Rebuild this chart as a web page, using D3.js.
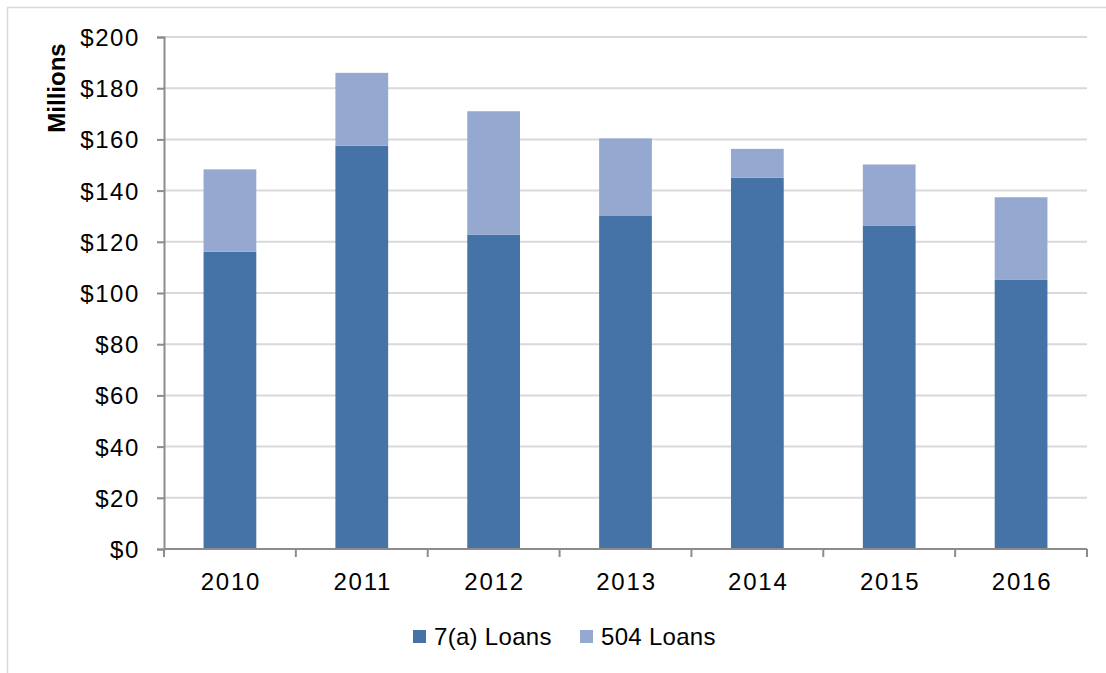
<!DOCTYPE html>
<html>
<head>
<meta charset="utf-8">
<script src="https://cdn.jsdelivr.net/npm/d3@7"></script>
<style>
  html, body { margin: 0; padding: 0; background: #fff; }
  svg { display: block; }
  text { font-family: "Liberation Sans", Arial, sans-serif; fill: #000; }
</style>
</head>
<body>
<svg id="chart" width="1106" height="673"></svg>
<script>
// SBA loan volume by fiscal year, in millions of dollars
const years = ["2010", "2011", "2012", "2013", "2014", "2015", "2016"];
const loans7a = [116.1, 157.5, 122.7, 130.3, 145.0, 126.2, 105.1];
const loans504 = [32.2, 28.5, 48.3, 30.1, 11.3, 24.0, 32.3];
const seriesNames = ["7(a) Loans", "504 Loans"];
const seriesColors = ["#4573a7", "#95a9d0"];
const yTicks = [0, 20, 40, 60, 80, 100, 120, 140, 160, 180, 200];

const svg = d3.select("#chart");
const W = 1106, H = 673;
const plot = { left: 164, right: 1087, top: 37, bottom: 549 };

// Outer frame
svg.append("rect")
  .attr("x", 7.5).attr("y", 7.5)
  .attr("width", W).attr("height", H)
  .attr("fill", "none").attr("stroke", "#d9d9d9").attr("stroke-width", 1.5);

const x = d3.scaleBand()
  .domain(years)
  .range([plot.left, plot.right])
  .paddingInner(0.6)
  .paddingOuter(0.3);

const y = d3.scaleLinear()
  .domain([0, 200])
  .range([plot.bottom, plot.top]);

// Horizontal gridlines
svg.append("g")
  .selectAll("line")
  .data(yTicks.filter(t => t > 0))
  .join("line")
  .attr("x1", plot.left).attr("x2", plot.right)
  .attr("y1", d => y(d)).attr("y2", d => y(d))
  .attr("stroke", "#d9d9d9").attr("stroke-width", 2);

// Stacked bars
const rows = years.map((yr, i) => ({ year: yr, a: loans7a[i], b: loans504[i] }));
const stack = d3.stack().keys(["a", "b"])(rows);

svg.append("g")
  .selectAll("g")
  .data(stack)
  .join("g")
  .attr("fill", (d, i) => seriesColors[i])
  .selectAll("rect")
  .data(d => d)
  .join("rect")
  .attr("x", d => x(d.data.year))
  .attr("width", x.bandwidth())
  .attr("y", d => y(d[1]))
  .attr("height", d => y(d[0]) - y(d[1]));

// Y axis
const yAxis = svg.append("g")
  .attr("transform", `translate(${plot.left},0)`)
  .call(d3.axisLeft(y).tickValues(yTicks).tickSize(7).tickPadding(17)
    .tickFormat(d => "$" + d));
yAxis.select(".domain").attr("stroke", "#8c8c8c").attr("stroke-width", 2);
yAxis.selectAll(".tick line").attr("stroke", "#8c8c8c").attr("stroke-width", 2);
yAxis.selectAll(".tick text")
  .attr("font-size", 24).attr("letter-spacing", "1.6px")
  .attr("font-family", "Liberation Sans, Arial, sans-serif")
  .attr("dy", "0.35em").attr("fill", "#000");

// X axis with ticks at category boundaries
const xg = svg.append("g").attr("transform", `translate(0,${plot.bottom})`);
xg.append("line")
  .attr("x1", plot.left).attr("x2", plot.right)
  .attr("stroke", "#8c8c8c").attr("stroke-width", 2);
const edges = d3.range(years.length + 1).map(i => plot.left + (plot.right - plot.left) * i / years.length);
xg.selectAll("line.edge")
  .data(edges)
  .join("line")
  .attr("class", "edge")
  .attr("x1", d => d).attr("x2", d => d)
  .attr("y1", 0).attr("y2", 8)
  .attr("stroke", "#8c8c8c").attr("stroke-width", 2);
xg.selectAll("text")
  .data(years)
  .join("text")
  .attr("x", d => x(d) + x.bandwidth() / 2 + 1)
  .attr("y", 41)
  .attr("text-anchor", "middle")
  .attr("font-size", 24).attr("letter-spacing", "1.8px")
  .text(d => d);

// Y axis title
svg.append("text")
  .attr("transform", "translate(65,88) rotate(-90)")
  .attr("text-anchor", "middle")
  .attr("font-size", 24).attr("font-weight", "bold")
  .text("Millions");

// Legend
const legendX = [413, 580];
const legend = svg.append("g");
seriesNames.forEach((name, i) => {
  legend.append("rect")
    .attr("x", legendX[i]).attr("y", 630)
    .attr("width", 13).attr("height", 13)
    .attr("fill", seriesColors[i]);
  legend.append("text")
    .attr("x", legendX[i] + 21).attr("y", 645)
    .attr("font-size", 24).attr("letter-spacing", "0.3px")
    .text(name);
});
</script>
</body>
</html>
